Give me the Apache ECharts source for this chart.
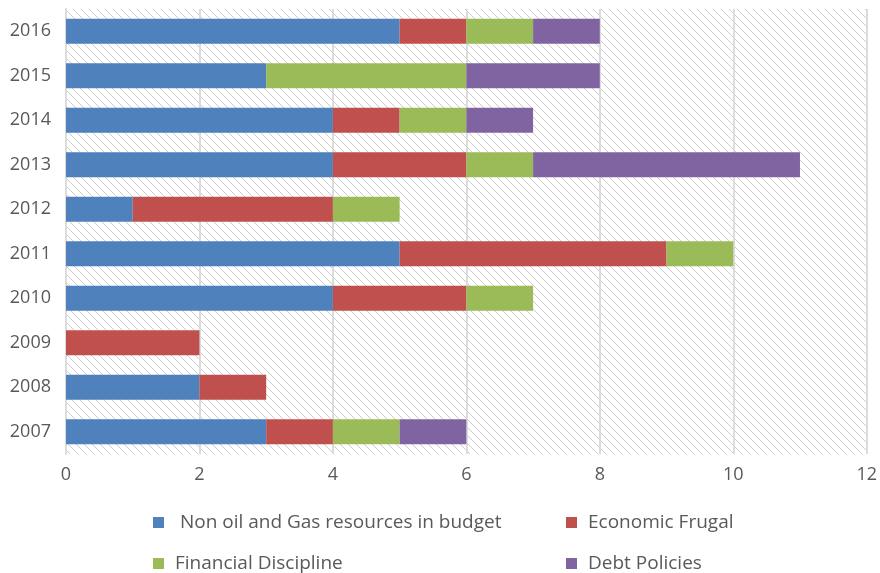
<!DOCTYPE html>
<html>
<head>
<meta charset="utf-8">
<script src="https://cdn.jsdelivr.net/npm/echarts@6/dist/echarts.min.js"></script>
<style>
  html, body { margin: 0; padding: 0; background: #fff; }
  #chart { width: 880px; height: 573px; }
</style>
</head>
<body>
<div id="chart"></div>
<script>
// Years, bottom to top
const years = ['2007', '2008', '2009', '2010', '2011', '2012', '2013', '2014', '2015', '2016'];

// Stacked components per year
const nonOilGas = [3, 2, 0, 4, 5, 1, 4, 4, 3, 5];
const economicFrugal = [1, 1, 2, 2, 4, 3, 2, 1, 0, 1];
const financialDiscipline = [1, 0, 0, 1, 1, 1, 1, 1, 3, 1];
const debtPolicies = [1, 0, 0, 0, 0, 0, 4, 1, 2, 1];

const seriesNames = ['Non oil and Gas resources in budget', 'Economic Frugal', 'Financial Discipline', 'Debt Policies'];
const seriesColors = ['#4f81bd', '#c0504d', '#9bbb59', '#8064a2'];
const seriesValues = [nonOilGas, economicFrugal, financialDiscipline, debtPolicies];

// Diagonal dotted hatch used as the plot-area fill
function makeHatch() {
  const size = 8;
  const c = document.createElement('canvas');
  c.width = size; c.height = size;
  const ctx = c.getContext('2d');
  ctx.fillStyle = '#ffffff';
  ctx.fillRect(0, 0, size, size);
  ctx.fillStyle = '#cccccc';
  for (let i = 0; i < size; i++) {
    ctx.fillRect(i, i, 1, 1);
  }
  return c;
}

const font = '"Open Sans", sans-serif';
const chart = echarts.init(document.getElementById('chart'));

const legendBase = {
  orient: 'vertical',
  top: 513,
  height: 90,
  padding: 0,
  itemWidth: 11, itemHeight: 11, itemGap: 22,
  icon: 'rect',
  textStyle: { color: '#595959', fontSize: 19, fontFamily: font, padding: [0, 0, 0, 6] }
};

chart.setOption({
  animation: false,
  grid: {
    left: 66, right: 12, top: 9, bottom: 119,
    show: true,
    borderWidth: 0,
    backgroundColor: { image: makeHatch(), repeat: 'repeat' }
  },
  xAxis: {
    type: 'value',
    min: 0, max: 12, interval: 2,
    axisLine: { show: false },
    axisTick: { show: false },
    axisLabel: { color: '#595959', fontSize: 18, fontFamily: font, margin: 12 },
    splitLine: { show: true, lineStyle: { color: '#dcdcdc', width: 2 } }
  },
  yAxis: {
    type: 'category',
    data: years,
    axisLine: { show: true, lineStyle: { color: '#dcdcdc', width: 2 } },
    axisTick: { show: false },
    axisLabel: { color: '#595959', fontSize: 18, fontFamily: font, margin: 15 }
  },
  legend: [
    Object.assign({}, legendBase, {
      data: [seriesNames[0], seriesNames[2]],
      left: 153,
      formatter: n => n === seriesNames[0] ? ' ' + n : n
    }),
    Object.assign({}, legendBase, {
      data: [seriesNames[1], seriesNames[3]],
      left: 566
    })
  ],
  series: seriesNames.map((name, i) => ({
    name: name,
    type: 'bar',
    stack: 'total',
    barWidth: '56%',
    itemStyle: { color: seriesColors[i] },
    data: seriesValues[i]
  }))
});
</script>
</body>
</html>
